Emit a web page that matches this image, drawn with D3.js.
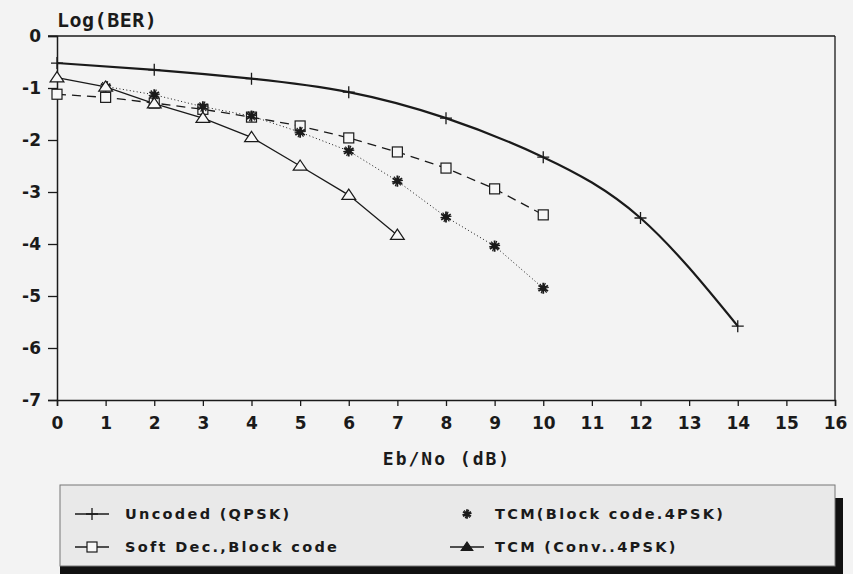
<!DOCTYPE html>
<html>
<head>
<meta charset="utf-8">
<script src="https://cdn.jsdelivr.net/npm/d3@7"></script>
<style>
  body { margin: 0; background: #f3f3f3; }
  svg { display: block; }
</style>
</head>
<body>
<div id="chart"></div>
<script>
// data
var xTicks = d3.range(0, 17);
var yTicks = d3.range(-7, 1);

var uncodedX = [0, 2, 4, 6, 8, 10, 12, 14];
var uncodedY = [-0.52, -0.65, -0.82, -1.08, -1.58, -2.33, -3.5, -5.58];

var softX = [0, 1, 2, 3, 4, 5, 6, 7, 8, 9, 10];
var softY = [-1.12, -1.18, -1.29, -1.41, -1.56, -1.73, -1.96, -2.23, -2.54, -2.94, -3.44];

var tcmBlockX = [1, 2, 3, 4, 5, 6, 7, 8, 9, 10];
var tcmBlockY = [-0.97, -1.13, -1.36, -1.54, -1.85, -2.21, -2.79, -3.48, -4.04, -4.85];

var tcmConvX = [0, 1, 2, 3, 4, 5, 6, 7];
var tcmConvY = [-0.8, -0.98, -1.3, -1.58, -1.95, -2.5, -3.06, -3.83];

var legendLabels = ["Uncoded (QPSK)", "Soft Dec.,Block code", "TCM(Block code.4PSK)", "TCM (Conv..4PSK)"];

var width = 853, height = 574;
var margin = {left: 57, right: 18, top: 36, bottom: 174};

var svg = d3.select("#chart").append("svg")
    .attr("width", width)
    .attr("height", height);

var xScale = d3.scaleLinear().domain([0, 16]).range([margin.left, width - margin.right]);
var yScale = d3.scaleLinear().domain([-7, 0]).range([height - margin.bottom, margin.top]);

var ink = "#1a1a1a";
var labelFont = "'DejaVu Sans', sans-serif";
var monoFont = "'DejaVu Sans Mono', monospace";

// frame: top and right lines
svg.append("line")
    .attr("x1", xScale(0) - 9).attr("x2", xScale(16))
    .attr("y1", yScale(0)).attr("y2", yScale(0))
    .attr("stroke", ink).attr("stroke-width", 1.3);
svg.append("line")
    .attr("x1", xScale(16)).attr("x2", xScale(16))
    .attr("y1", yScale(0)).attr("y2", yScale(-7))
    .attr("stroke", ink).attr("stroke-width", 1.3);

// axes
var xAxis = svg.append("g")
    .attr("transform", "translate(0," + yScale(-7) + ")")
    .call(d3.axisBottom(xScale).tickValues(xTicks).tickSize(6).tickPadding(11).tickFormat(d => d));
var yAxis = svg.append("g")
    .attr("transform", "translate(" + xScale(0) + ",0)")
    .call(d3.axisLeft(yScale).tickValues(yTicks).tickSize(9).tickPadding(7).tickFormat(d => String(d)));

[xAxis, yAxis].forEach(function (ax) {
    ax.select(".domain").attr("stroke", ink).attr("stroke-width", 1.5);
    ax.selectAll(".tick line").attr("stroke", ink).attr("stroke-width", 1.3);
    ax.selectAll(".tick text")
        .attr("fill", ink)
        .style("font-family", labelFont)
        .style("font-weight", "bold")
        .style("font-size", "17px");
});

// titles
svg.append("text")
    .attr("x", 57).attr("y", 27)
    .text("Log(BER)")
    .attr("fill", ink)
    .style("font-family", monoFont).style("font-weight", "bold").style("font-size", "20px")
    .style("letter-spacing", "0.5px");

svg.append("text")
    .attr("x", 447).attr("y", 465)
    .attr("text-anchor", "middle")
    .text("Eb/No (dB)")
    .attr("fill", ink)
    .style("font-family", monoFont).style("font-weight", "bold").style("font-size", "18px")
    .style("letter-spacing", "2px");

// markers
function plus(g, x, y, s) {
    g.append("path").attr("d", "M" + (x - s) + "," + y + "H" + (x + s) + "M" + x + "," + (y - s) + "V" + (y + s))
        .attr("stroke", ink).attr("stroke-width", 1.3).attr("fill", "none");
}
function square(g, x, y, s) {
    g.append("rect").attr("x", x - s).attr("y", y - s).attr("width", 2 * s).attr("height", 2 * s)
        .attr("fill", "#f7f7f7").attr("stroke", ink).attr("stroke-width", 1.2);
}
function star(g, x, y, s) {
    g.append("path").attr("d", d3.symbol().type(d3.symbolAsterisk).size(s * s * 2.4)())
        .attr("transform", "translate(" + x + "," + y + ")")
        .attr("stroke", ink).attr("stroke-width", 1.8).attr("fill", "none");
    g.append("path").attr("d", d3.symbol().type(d3.symbolAsterisk).size(s * s * 2.4)())
        .attr("transform", "translate(" + x + "," + y + ") rotate(22.5)")
        .attr("stroke", ink).attr("stroke-width", 1.2).attr("fill", "none");
    g.append("circle").attr("cx", x).attr("cy", y).attr("r", s * 0.5).attr("fill", ink);
}
function triangle(g, x, y, s, fill) {
    g.append("path").attr("d", "M" + x + "," + (y - s) + "L" + (x + s * 1.15) + "," + (y + s * 0.7) + "L" + (x - s * 1.15) + "," + (y + s * 0.7) + "Z")
        .attr("fill", fill || "#f7f7f7").attr("stroke", ink).attr("stroke-width", 1.2);
}

var series = [
    {xs: uncodedX, ys: uncodedY, curve: d3.curveNatural, width: 2.2, dash: null, mark: plus, size: 6},
    {xs: softX, ys: softY, curve: d3.curveLinear, width: 1.3, dash: "9,6", mark: square, size: 5},
    {xs: tcmBlockX, ys: tcmBlockY, curve: d3.curveLinear, width: 1, dash: "1,2.5", mark: star, size: 6},
    {xs: tcmConvX, ys: tcmConvY, curve: d3.curveLinear, width: 1.3, dash: null, mark: triangle, size: 6}
];

var line = d3.line();
series.forEach(function (s) {
    var pts = s.xs.map((x, i) => [xScale(x), yScale(s.ys[i])]);
    svg.append("path")
        .attr("d", line.curve(s.curve)(pts))
        .attr("fill", "none")
        .attr("stroke", ink)
        .attr("stroke-width", s.width)
        .attr("stroke-dasharray", s.dash);
});
series.forEach(function (s) {
    var g = svg.append("g");
    s.xs.forEach(function (x, i) {
        s.mark(g, xScale(x), yScale(s.ys[i]), s.size);
    });
});

// legend box with shadow
var lg = svg.append("g");
lg.append("rect").attr("x", 833).attr("y", 498).attr("width", 10).attr("height", 76).attr("fill", "#111");
lg.append("rect").attr("x", 60).attr("y", 566).attr("width", 783).attr("height", 8).attr("fill", "#111");
lg.append("rect").attr("x", 60).attr("y", 485).attr("width", 775).attr("height", 81)
    .attr("fill", "#e9e9e9").attr("stroke", "#777").attr("stroke-width", 1);

var legendPos = [
    {x: 92, y: 514}, {x: 92, y: 547}, {x: 467, y: 514}, {x: 467, y: 547}
];

legendLabels.forEach(function (label, i) {
    var p = legendPos[i];
    if (i === 0 || i === 1 || i === 3) {
        lg.append("line").attr("x1", p.x - 17).attr("x2", p.x + 17)
            .attr("y1", p.y).attr("y2", p.y)
            .attr("stroke", ink).attr("stroke-width", 1.5);
    }
    if (i === 0) plus(lg, p.x, p.y, 6);
    if (i === 1) square(lg, p.x, p.y, 5);
    if (i === 2) star(lg, p.x, p.y, 5);
    if (i === 3) triangle(lg, p.x, p.y, 5, ink);
    lg.append("text")
        .attr("x", i < 2 ? 125 : 495)
        .attr("y", p.y + 5)
        .text(label)
        .attr("fill", ink)
        .style("font-family", labelFont).style("font-weight", "bold").style("font-size", "14.5px")
        .style("letter-spacing", "2.3px");
});
</script>
</body>
</html>
